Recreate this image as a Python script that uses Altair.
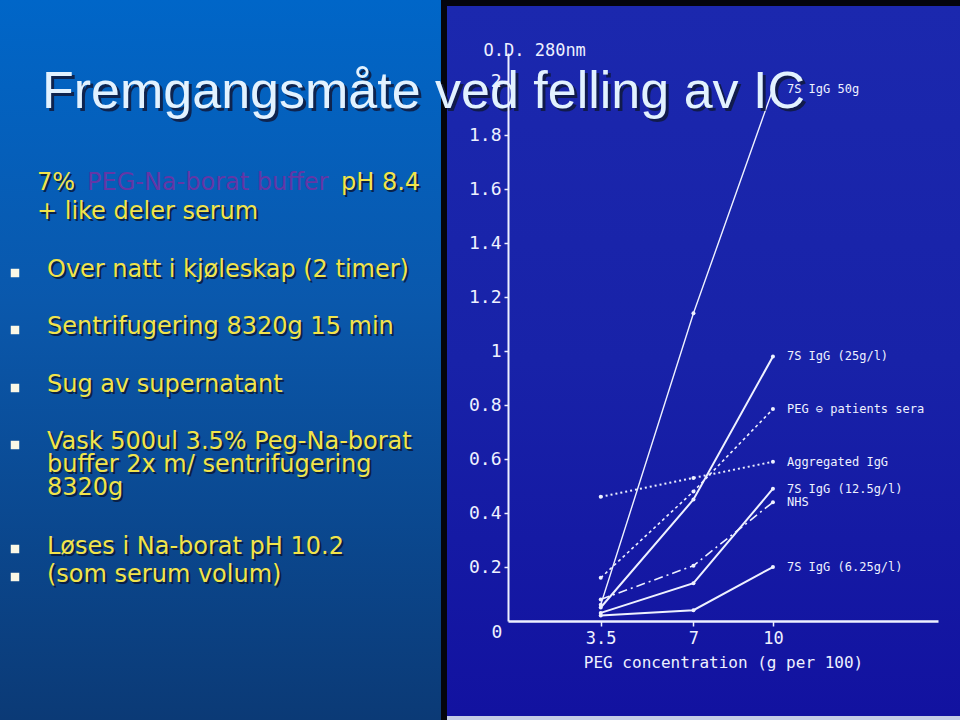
import altair as alt
import pandas as pd

# ---------------- data ----------------
conc = [3.5, 7, 10]
series_names = [
    "7S IgG  50g",
    "7S IgG (25g/l)",
    "PEG ⊖ patients sera",
    "Aggregated IgG",
    "7S IgG (12.5g/l)",
    "NHS",
    "7S IgG (6.25g/l)",
]
od_50g = [0.06, 1.14, 1.97]
od_25 = [0.05, 0.45, 0.98]
od_patients = [0.16, 0.48, 0.785]
od_aggregated = [0.46, 0.53, 0.59]
od_125 = [0.03, 0.14, 0.49]
od_nhs = [0.08, 0.205, 0.44]
od_625 = [0.02, 0.04, 0.20]
y_tick_values = [0.2, 0.4, 0.6, 0.8, 1, 1.2, 1.4, 1.6, 1.8, 2]
x_tick_values = [3.5, 7, 10]

slide_title = "Fremgangsmåte ved felling av IC"
intro_parts = ["7%", "PEG-Na-borat buffer", "pH 8.4"]
intro_line2 = "+ like deler serum"
bullet_lines = [
    "Over natt i kjøleskap (2 timer)",
    "Sentrifugering 8320g 15 min",
    "Sug av supernatant",
    "Vask 500ul 3.5% Peg-Na-borat",
    "buffer 2x m/ sentrifugering",
    "8320g",
    "Løses i Na-borat pH 10.2",
    "(som serum volum)",
]

all_values = [od_50g, od_25, od_patients, od_aggregated, od_125, od_nhs, od_625]
rows = []
for name, vals in zip(series_names, all_values):
    for c, v in zip(conc, vals):
        rows.append({"series": name, "conc": c, "od": v})
df = pd.DataFrame(rows)

# ---------------- styling ----------------
LINE = "#eef1ff"
YELLOW = "#f2e44a"
PURPLE = "#6436a6"
MONO = "DejaVu Sans Mono"

# plot area: origin at (508, 53) in page pixels
OX, OY = 508, 53

line_styles = {
    "7S IgG  50g": dict(strokeWidth=1.4),
    "7S IgG (25g/l)": dict(strokeWidth=2),
    "PEG ⊖ patients sera": dict(strokeWidth=1.6, strokeDash=[3, 3]),
    "Aggregated IgG": dict(strokeWidth=2, strokeDash=[2, 3]),
    "7S IgG (12.5g/l)": dict(strokeWidth=2),
    "NHS": dict(strokeWidth=1.6, strokeDash=[9, 4, 2, 4]),
    "7S IgG (6.25g/l)": dict(strokeWidth=2),
}

X = alt.X(
    "conc:Q",
    scale=alt.Scale(domain=[0, 16.23], nice=False, zero=False),
    axis=alt.Axis(
        values=x_tick_values,
        labelExpr="datum.value",
        title="PEG concentration (g per 100)",
        titleFont=MONO, titleFontSize=16, titleFontWeight="normal", titleColor=LINE,
        titlePadding=8,
        labelFont=MONO, labelFontSize=17, labelColor=LINE, labelPadding=4,
        domainColor=LINE, domainWidth=2.5, tickColor=LINE, tickSize=5, tickWidth=1.5,
        grid=False, zindex=1,
    ),
)
Y = alt.Y(
    "od:Q",
    scale=alt.Scale(domain=[0, 2.104], nice=False),
    axis=alt.Axis(
        values=y_tick_values,
        labelExpr="datum.value",
        title="O.D. 280nm",
        titleAngle=0, titleAlign="left", titleBaseline="alphabetic",
        titleX=-25, titleY=2,
        titleFont=MONO, titleFontSize=17, titleFontWeight="normal", titleColor=LINE,
        labelFont=MONO, labelFontSize=18, labelColor=LINE, labelPadding=3,
        domainColor=LINE, domainWidth=2, tickColor=LINE, tickSize=4, tickWidth=1.5,
        grid=False, zindex=1,
    ),
)

one = pd.DataFrame({"a": [0]})


def rect(x1, x2, y1, y2, fill):
    return alt.Chart(one).mark_rect(fill=fill, strokeWidth=0).encode(
        x=alt.value(x1 - OX), x2=alt.value(x2 - OX),
        y=alt.value(y1 - OY), y2=alt.value(y2 - OY),
    )


def text(t, x, y, color, size, font="DejaVu Sans", baseline="middle",
         shadow="#0a1838", sh=2):
    d = pd.DataFrame({"t": [t]})
    out = []
    if shadow:
        out.append(alt.Chart(d).mark_text(
            align="left", baseline=baseline, font=font, fontSize=size,
            color=shadow, opacity=0.85,
        ).encode(x=alt.value(x - OX + sh), y=alt.value(y - OY + sh), text="t:N"))
    out.append(alt.Chart(d).mark_text(
        align="left", baseline=baseline, font=font, fontSize=size, color=color,
    ).encode(x=alt.value(x - OX), y=alt.value(y - OY), text="t:N"))
    return out


layers = []
# backgrounds
left_grad = alt.LinearGradient(
    gradient="linear", x1=0, x2=0, y1=0, y2=1,
    stops=[alt.GradientStop(color="#0066c8", offset=0),
           alt.GradientStop(color="#0a58ac", offset=0.42),
           alt.GradientStop(color="#0b3a76", offset=1)],
)
photo_grad = alt.LinearGradient(
    gradient="linear", x1=0, x2=0, y1=0, y2=1,
    stops=[alt.GradientStop(color="#1b28ae", offset=0),
           alt.GradientStop(color="#1822a8", offset=0.5),
           alt.GradientStop(color="#1212a0", offset=1)],
)
layers.append(rect(0, 441, 0, 720, left_grad))
layers.append(rect(447, 960, 6, 716, photo_grad))
layers.append(rect(447, 960, 716, 720, "#c4cce6"))

# data lines
for name in series_names:
    layers.append(
        alt.Chart(df).transform_filter(alt.datum.series == name)
        .mark_line(color=LINE, **line_styles[name])
        .encode(x=X, y=Y)
    )
layers.append(alt.Chart(df).mark_circle(size=16, color=LINE, opacity=1).encode(x=X, y=Y))
layers.append(
    alt.Chart(df).transform_filter(alt.datum.conc == 10)
    .mark_text(align="left", dx=14, font=MONO, fontSize=12, color=LINE)
    .encode(x=X, y=Y, text="series:N")
)
origin = pd.DataFrame({"conc": [0], "od": [0], "t": ["0"]})
layers.append(
    alt.Chart(origin).mark_text(align="center", dx=-11, dy=12, font=MONO,
                                fontSize=18, color=LINE)
    .encode(x=X, y=Y, text="t:N")
)

# slide text
layers += text(intro_parts[0], 37, 183, YELLOW, 24)
layers += text(intro_parts[1], 87, 183, PURPLE, 24, shadow=None)
layers += text(intro_parts[2], 341, 183, YELLOW, 24)
layers += text(intro_line2, 37, 212, YELLOW, 24)
bullet_y = [270, 327, 385, 442, 465, 488, 547, 575]
for t, y in zip(bullet_lines, bullet_y):
    layers += text(t, 47, y, YELLOW, 24)

for by in [273, 330, 388, 445, 549, 577]:
    layers.append(alt.Chart(one).mark_square(size=72, color="#fbf8e6", opacity=1)
                  .encode(x=alt.value(15 - OX), y=alt.value(by - OY)))

layers += text(slide_title, 42, 108, "#e2f2ff", 52, font="Liberation Sans",
               baseline="alphabetic", shadow="#101a3c", sh=3)

chart = alt.layer(*layers).properties(
    width=430, height=568,
    autosize=alt.AutoSizeParams(type="none"),
    padding={"left": OX, "top": OY, "right": 960 - OX - 430, "bottom": 720 - OY - 568},
    background="#04050c",
).configure_view(stroke=None)

chart.save("out.html", embed_options={"renderer": "svg", "actions": False})
